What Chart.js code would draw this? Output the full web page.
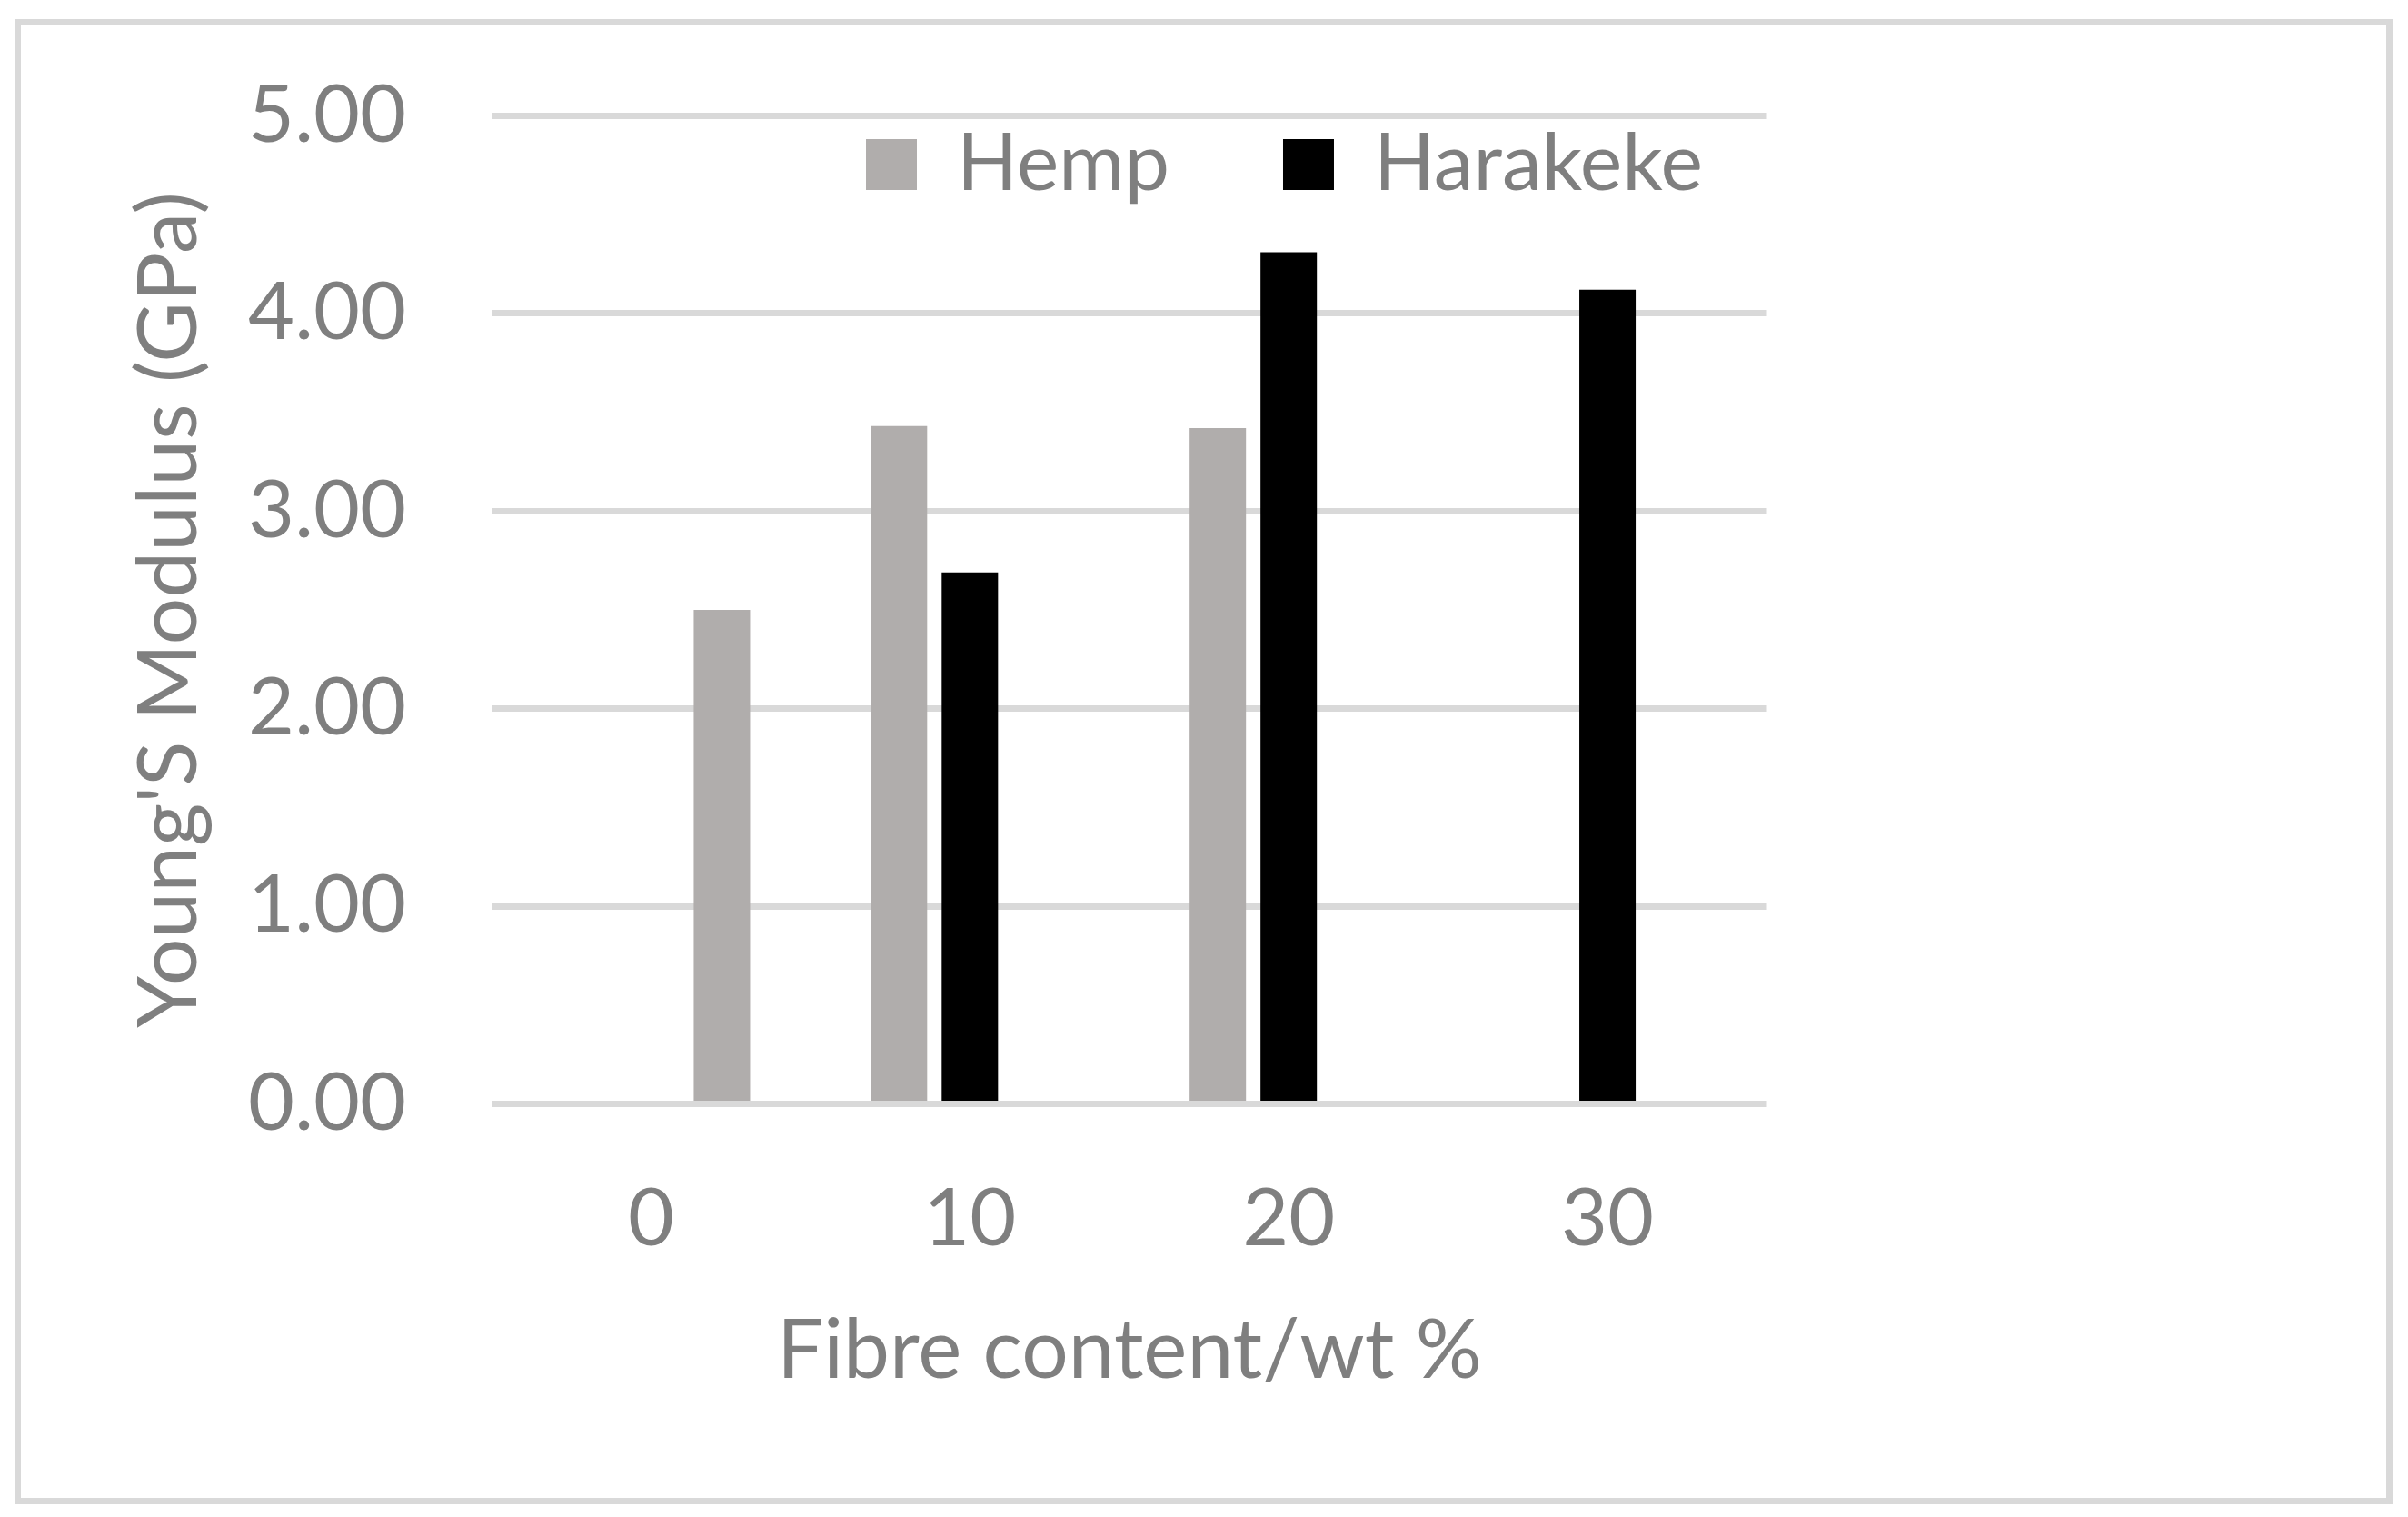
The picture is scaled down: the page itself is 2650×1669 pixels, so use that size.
<!DOCTYPE html>
<html>
<head>
<meta charset="utf-8">
<script src="https://cdn.jsdelivr.net/npm/chart.js@4.4.1/dist/chart.umd.min.js"></script>
<style>
  body { margin: 0; background: #fff; }
  #frame {
    position: absolute; left: 16px; top: 21px;
    width: 2617px; height: 1634px;
    border: 7px solid #d9d9d9; box-sizing: border-box;
  }
  #chart { position: absolute; left: 0; top: 0; }
</style>
</head>
<body>
<div id="frame"></div>
<canvas id="chart" width="2650" height="1669"></canvas>
<script>
// Data
const fibreContent = ["0", "10", "20", "30"];
const hempModulus = [null, 3.43, 3.42, null];
const harakekeModulus = [null, 2.69, 4.31, 4.12];
// unfilled matrix bar sits in its own (third) slot, coloured like hemp
const neatModulus = [2.50, null, null, null];
const yTickLabels = ["0.00", "1.00", "2.00", "3.00", "4.00", "5.00"];

const textGrey = "#7f7f7f";
const hempGrey = "#b0adac";

Chart.defaults.font.family = "Lato";
Chart.defaults.font.size = 88;
Chart.defaults.color = textGrey;

// legend is drawn inside the plot, so it should not take layout space
const legendInPlot = {
  id: "legendInPlot",
  afterInit(chart) {
    const legend = chart.legend;
    const fit = legend.fit;
    legend.fit = function () {
      fit.call(this);
      this.realHeight = this.height;
      this.height = 0;
    };
  },
  afterLayout(chart) {
    const legend = chart.legend;
    legend.left = 828;
    legend.right = chart.width;
    legend.top = 12;
    legend.height = legend.realHeight;
    legend.bottom = legend.top + legend.height;
  }
};

new Chart(document.getElementById("chart"), {
  type: "bar",
  data: {
    labels: fibreContent,
    datasets: [
      { label: "Hemp", data: hempModulus, backgroundColor: hempGrey },
      { label: "Harakeke", data: harakekeModulus, backgroundColor: "#000000" },
      { label: "Neat", data: neatModulus, backgroundColor: hempGrey }
    ]
  },
  options: {
    responsive: false,
    devicePixelRatio: 1,
    animation: false,
    categoryPercentage: 0.667,
    barPercentage: 0.795,
    layout: { padding: { left: 100, right: 705.5, top: 127.5, bottom: 128 } },
    plugins: {
      tooltip: { enabled: false },
      legend: {
        position: "top",
        align: "start",
        labels: {
          boxWidth: 56,
          boxHeight: 56,
          padding: 125,
          color: textGrey,
          font: { size: 88 },
          filter: (item) => item.text !== "Neat"
        }
      }
    },
    scales: {
      x: {
        grid: { display: false, drawTicks: false },
        border: { display: false },
        ticks: { padding: 74, font: { size: 88 }, color: textGrey },
        title: {
          display: true,
          text: "Fibre content/wt %",
          color: textGrey,
          font: { size: 91 },
          padding: { top: 0, bottom: 0 }
        },
        afterFit(scale) { scale.height = 326.5; }
      },
      y: {
        min: 0,
        max: 5,
        grid: { color: "#d9d9d9", lineWidth: 7, drawTicks: false },
        border: { display: false },
        ticks: {
          stepSize: 1,
          padding: 94,
          font: { size: 88 },
          color: textGrey,
          callback: (v) => yTickLabels[v]
        },
        title: {
          display: true,
          text: "Young'S Modulus (GPa)",
          color: textGrey,
          font: { size: 91 },
          padding: { top: 32, bottom: 0 }
        },
        afterFit(scale) {
          scale.width = 441;
          scale.paddingTop = 0;
          scale.paddingBottom = 0;
        }
      }
    }
  },
  plugins: [legendInPlot]
});
</script>
</body>
</html>
